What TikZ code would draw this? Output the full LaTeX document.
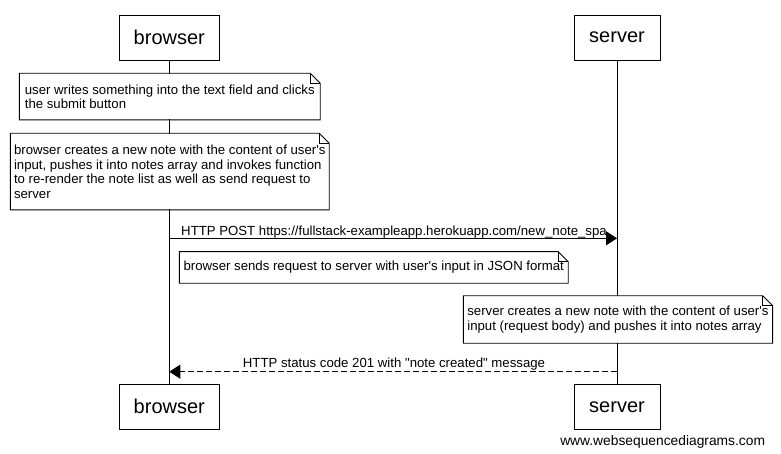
\documentclass[tikz,border=0pt]{standalone}
\usepackage{fontspec}
\setmainfont{Liberation Sans}[Ligatures=TeXOff]
\usetikzlibrary{arrows.meta}

% dog-eared outline around a note node
\newcommand\dogear[1]{%
  \draw (#1.north west) -- ([xshift=-10pt]#1.north east)
    -- ([yshift=-10pt]#1.north east) -- (#1.south east)
    -- (#1.south west) -- cycle;
  \draw ([xshift=-10pt]#1.north east) -- ([xshift=-10pt,yshift=-10pt]#1.north east)
    -- ([yshift=-10pt]#1.north east);
}

\begin{document}
\begin{tikzpicture}[
  x = 1pt, y = -1pt,
  line width = 0.9pt,
  actor/.style = {draw, fill = white, minimum height = 45pt, inner sep = 0pt,
                  font = \fontsize{20}{24}\selectfont},
  note/.style = {fill = white, anchor = north west, align = left, inner sep = 0pt,
                 font = \fontsize{13.2}{14.5}\selectfont},
  msg/.style = {-{Triangle[length = 11pt, width = 14pt]}},
  reply/.style = {msg, dash pattern = on 6pt off 3pt},
  msglabel/.style = {anchor = base, inner sep = 0pt, font = \fontsize{13.2}{15}\selectfont},
  ]
  \useasboundingbox (0,0) rectangle (781,454);

  % actors
  \node[actor, minimum width = 100pt] (bt) at (169.3,37.5) {browser};
  \node[actor, minimum width = 86pt]  (st) at (617,37.5)   {server};
  \node[actor, minimum width = 100pt] (bb) at (169.3,406.8) {browser};
  \node[actor, minimum width = 86pt]  (sb) at (617,406.8)   {server};

  % lifelines
  \draw (bt) -- (bb);
  \draw (st) -- (sb);

  % notes
  \node[note, minimum width = 300pt, minimum height = 45.7pt] (n1) at (19.3,73.3)
    {user writes something into the text field and clicks\\the submit button};
  \dogear{n1}
  \node[note, minimum width = 318pt, minimum height = 75.7pt] (n2) at (10.3,133.3)
    {browser creates a new note with the content of user's\\
     input, pushes it into notes array and invokes function\\
     to re-render the note list as well as send request to\\
     server};
  \dogear{n2}

  % request
  \coordinate (post) at (0,238.3);
  \draw[msg] (bt |- post) -- (st |- post);
  \node[msglabel] (postlbl) at (394,235.5)
    {HTTP POST https://fullstack-exampleapp.herokuapp.com/new\_note\_spa};

  \node[note, minimum width = 388pt, minimum height = 30.6pt] (n3) at (179.3,251.7)
    {browser sends request to server with user's input in JSON format};
  \dogear{n3}
  \node[note, minimum width = 308.4pt, minimum height = 46.6pt] (n4) at (463.3,295.7)
    {server creates a new note with the content of user's\\
     input (request body) and pushes it into notes array};
  \dogear{n4}

  % response
  \coordinate (ok) at (0,371.7);
  \draw[reply] (st |- ok) -- (bt |- ok);
  \node[msglabel] (oklbl) at (394,367.3)
    {HTTP status code 201 with "note created" message};

  \node[anchor = base east, inner sep = 0pt, font = \fontsize{13.8}{16}\selectfont]
    (wsd) at (765.5,445) {www.websequencediagrams.com};
\end{tikzpicture}
\end{document}
